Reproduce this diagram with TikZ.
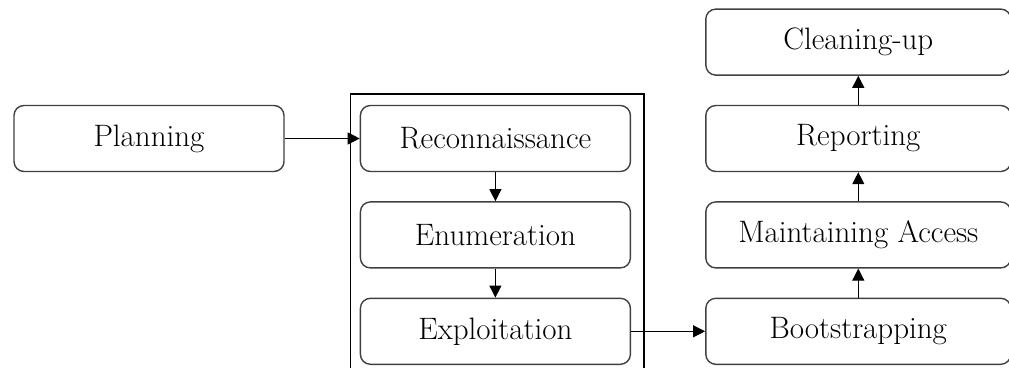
\documentclass[tikz,border=0pt]{standalone}
\usetikzlibrary{positioning,arrows.meta}

\begin{document}
\begin{tikzpicture}[
    x=1pt, y=1pt,
    node distance = 29pt and 75pt,
    block/.style={rectangle, draw=black!75, line width=1.4pt, minimum width=270pt, minimum height=66pt, rounded corners=10pt, inner sep=0pt, font=\fontsize{31}{36}\selectfont},
    wideblock/.style={block, minimum width=305pt},
    line/.style={draw, line width=1.1pt, -{Triangle[length=12pt, width=12pt]}}
    ]
    \useasboundingbox (0,0) rectangle (1009,368);

    \node [block] (planning) at (149,229.5) {Planning};
    \node [block, right=of planning] (recon) {Reconnaissance};
    \node [block, below=of recon] (enum) {Enumeration};
    \node [block, below=of enum] (exploit) {Exploitation};
    \node [wideblock, right=74pt of exploit] (boot) {Bootstrapping};
    \node [wideblock, above=of boot] (access) {Maintaining Access};
    \node [wideblock, above=of access] (report) {Reporting};
    \node [wideblock, above=of report] (cleanup) {Cleaning-up};

    \coordinate (phaseNW) at ([xshift=-9pt, yshift=11pt]recon.north west);
    \coordinate (phaseNE) at ([xshift=13pt, yshift=11pt]recon.north east);
    \draw [line width=1.4pt] (phaseNW |- 0,0) -- (phaseNW) -- (phaseNE) -- (phaseNE |- 0,0);

    \path [line] (planning) -- (recon);
    \path [line] (recon) -- (enum);
    \path [line] (enum) -- (exploit);
    \path [line] (exploit) -- (boot);
    \path [line] (boot) -- (access);
    \path [line] (access) -- (report);
    \path [line] (report) -- (cleanup);
\end{tikzpicture}
\end{document}
